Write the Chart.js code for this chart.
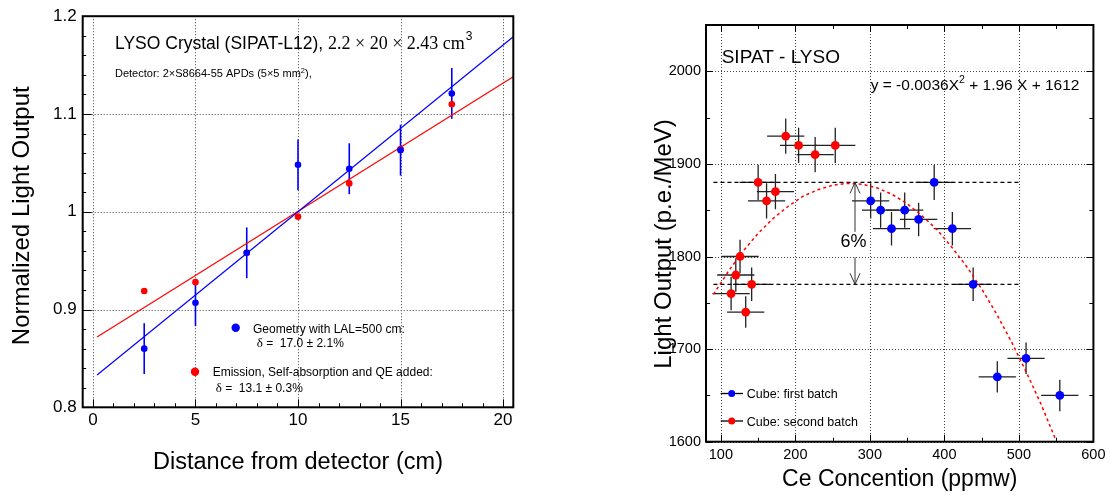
<!DOCTYPE html>
<html>
<head>
<meta charset="utf-8">
<script src="https://cdn.jsdelivr.net/npm/chart.js@4.4.0/dist/chart.umd.min.js"></script>
<style>
html, body { margin: 0; padding: 0; background: #fff; }
#wrap { position: relative; width: 1110px; height: 495px; }
canvas { position: absolute; top: 0; }
#left { left: 0; }
#right { left: 555px; }
</style>
</head>
<body>
<div id="wrap">
  <canvas id="left" width="555" height="495"></canvas>
  <canvas id="right" width="555" height="495"></canvas>
</div>
<script>
// ---- left panel: normalized light output vs distance ----
const distance = [2.5, 5, 7.5, 10, 12.5, 15, 17.5];
const geomLO = [0.860, 0.907, 0.958, 1.048, 1.044, 1.063, 1.121];
const geomErr = [0.026, 0.024, 0.026, 0.026, 0.026, 0.026, 0.026];
const emisLO = [0.919, 0.928, 0.958, 0.995, 1.029, 1.064, 1.110];
const geomFitX = [0.2, 20.5];
const geomFitY = [0.833, 1.179];
const emisFitX = [0.2, 20.5];
const emisFitY = [0.872, 1.138];
const distTicks = [0, 5, 10, 15, 20];
const loTicks = [0.8, 0.9, 1, 1.1, 1.2];
const loTickLabels = ['0.8', '0.9', '1', '1.1', '1.2'];

// ---- right panel: light output vs Ce concentration ----
const ceBatch1 = [301, 314.4, 329, 346.7, 365.4, 386.3, 410.7, 438.6, 471, 509.6, 554.9];
const lyBatch1 = [1860, 1850, 1830, 1850, 1840, 1880, 1830, 1770, 1670, 1690, 1650];
const ceErr1 = [25, 25, 25, 25, 25, 25, 25, 25, 25, 25, 25];
const lyErr1 = [19, 19, 18, 19, 18, 19, 18, 18, 17, 17, 17];
const ceBatch2 = [113.7, 120, 125.7, 133.3, 141.3, 150, 161.3, 173.2, 187, 204.3, 226.5, 253.5];
const lyBatch2 = [1760, 1780, 1800, 1740, 1770, 1880, 1860, 1870, 1930, 1920, 1910, 1920];
const ceErr2 = [25, 25, 25, 25, 25, 25, 25, 25, 25, 25, 25, 27];
const lyErr2 = [18, 18, 18, 17, 18, 19, 19, 19, 19, 19, 19, 19];
// fitted curve y = -0.0036X^2 + 1.96X + 1612
const fitCe = [90, 110, 130, 150, 170, 190, 210, 230, 250, 270, 290, 310, 330, 350, 370, 390, 410, 430, 450, 470, 490, 510, 530, 550];
const fitLy = [1759, 1784, 1806, 1825, 1841, 1854, 1865, 1872, 1877, 1879, 1878, 1874, 1867, 1857, 1844, 1829, 1810, 1789, 1765, 1738, 1708, 1675, 1640, 1601];
const bandCe = [90, 500];
const bandLevels = [1880, 1770];
const ceTicks = [100, 200, 300, 400, 500, 600];
const lyTicks = [1600, 1700, 1800, 1900, 2000];

const SANS = 'Liberation Sans, Arial, sans-serif';
const SERIF = 'Liberation Serif, Times New Roman, serif';
Chart.defaults.font.family = SANS;
Chart.defaults.color = '#000';

const pts = (xs, ys) => xs.map((x, i) => ({ x: x, y: ys[i] }));

function txt(ctx, s, x, y, size, family, align) {
  ctx.font = size + 'px ' + (family || SANS);
  ctx.textAlign = align || 'left';
  ctx.textBaseline = 'alphabetic';
  ctx.fillText(s, x, y);
  return ctx.measureText(s).width;
}

function dot(ctx, x, y, r, color) {
  ctx.beginPath();
  ctx.arc(x, y, r, 0, Math.PI * 2);
  ctx.fillStyle = color;
  ctx.fill();
}

function frame(ctx, a) {
  ctx.save();
  ctx.strokeStyle = '#000';
  ctx.lineWidth = 2;
  ctx.strokeRect(a.left, a.top, a.right - a.left, a.bottom - a.top);
  ctx.restore();
}

// dotted grid at the labelled ticks
function dottedGrid(chart, xs, ys) {
  const { ctx, chartArea: a, scales: { x, y } } = chart;
  ctx.save();
  ctx.strokeStyle = '#444';
  ctx.lineWidth = 1;
  ctx.setLineDash([1, 2]);
  xs.forEach(v => {
    const px = Math.round(x.getPixelForValue(v)) + 0.5;
    ctx.beginPath(); ctx.moveTo(px, a.top); ctx.lineTo(px, a.bottom); ctx.stroke();
  });
  ys.forEach(v => {
    const py = Math.round(y.getPixelForValue(v)) + 0.5;
    ctx.beginPath(); ctx.moveTo(a.left, py); ctx.lineTo(a.right, py); ctx.stroke();
  });
  ctx.restore();
}

const noGrid = { display: false, drawTicks: false };
const noBorder = { display: false };

// ------------------------------------------------------------------
const leftDecor = {
  id: 'leftDecor',
  beforeDatasetsDraw(chart) {
    dottedGrid(chart, distTicks, loTicks);
    const { ctx, scales: { x, y } } = chart;
    ctx.save();
    ctx.strokeStyle = '#0000ff';
    ctx.lineWidth = 1.6;
    distance.forEach((d, i) => {
      const px = x.getPixelForValue(d);
      ctx.beginPath();
      ctx.moveTo(px, y.getPixelForValue(geomLO[i] - geomErr[i]));
      ctx.lineTo(px, y.getPixelForValue(geomLO[i] + geomErr[i]));
      ctx.stroke();
    });
    ctx.restore();
  },
  afterDraw(chart) {
    const { ctx, chartArea: a, scales: { x, y } } = chart;
    ctx.save();
    frame(ctx, a);
    ctx.strokeStyle = '#000';
    ctx.lineWidth = 1;
    for (let i = 0; i <= 20; i++) {
      const py = Math.round(y.getPixelForValue(0.8 + i * 0.02)) + 0.5;
      const len = i % 5 === 0 ? 9 : 3.5;
      ctx.beginPath(); ctx.moveTo(a.left, py); ctx.lineTo(a.left + len, py); ctx.stroke();
      const px = Math.round(x.getPixelForValue(i)) + 0.5;
      const lx = i % 5 === 0 ? 8 : 4;
      ctx.beginPath(); ctx.moveTo(px, a.bottom); ctx.lineTo(px, a.bottom - lx); ctx.stroke();
    }
    ctx.fillStyle = '#000';
    // header
    let w = txt(ctx, 'LYSO Crystal (SIPAT-L12), ', 115, 48.5, 17.5);
    let w2 = txt(ctx, '2.2 \u00d7 20 \u00d7 2.43 cm', 115 + w, 48.5, 18, SERIF);
    txt(ctx, '3', 115 + w + w2 + 1, 40, 12);
    w = txt(ctx, 'Detector: 2\u00d7S8664-55 APDs (5\u00d75 mm', 115, 77.3, 11);
    w2 = txt(ctx, '2', 115 + w, 73, 7.5);
    txt(ctx, '),', 115 + w + w2, 77.3, 11);
    // legend
    dot(ctx, 235.7, 327.7, 4.2, '#0000ff');
    ctx.fillStyle = '#000';
    txt(ctx, 'Geometry with LAL=500 cm:', 253, 332.7, 12);
    w = txt(ctx, '\u03b4', 256.7, 347, 13, SERIF);
    txt(ctx, ' =  17.0 \u00b1 2.1%', 256.7 + w, 347, 12);
    dot(ctx, 195, 371.7, 4.2, '#ff0000');
    ctx.fillStyle = '#000';
    txt(ctx, 'Emission, Self-absorption and QE added:', 212.7, 376, 12);
    w = txt(ctx, '\u03b4', 215.7, 392, 13, SERIF);
    txt(ctx, ' =  13.1 \u00b1 0.3%', 215.7 + w, 392, 12);
    // axis titles
    txt(ctx, 'Distance from detector (cm)', (a.left + a.right) / 2, 469, 23.5, SANS, 'center');
    ctx.translate(29, (a.top + a.bottom) / 2 + 4);
    ctx.rotate(-Math.PI / 2);
    txt(ctx, 'Normalized Light Output', 0, 0, 24, SANS, 'center');
    ctx.restore();
  }
};

new Chart(document.getElementById('left'), {
  type: 'scatter',
  data: {
    datasets: [
      { data: pts(distance, geomLO), backgroundColor: '#0000ff', pointRadius: 3.3, borderWidth: 0, order: 0 },
      { data: pts(distance, emisLO), backgroundColor: '#ff0000', pointRadius: 3.3, borderWidth: 0, order: 1 },
      { data: pts(geomFitX, geomFitY), showLine: true, borderColor: '#0000ff', borderWidth: 1.2, pointRadius: 0, order: 2 },
      { data: pts(emisFitX, emisFitY), showLine: true, borderColor: '#ff0000', borderWidth: 1.2, pointRadius: 0, order: 3 }
    ]
  },
  options: {
    responsive: false,
    animation: false,
    events: [],
    layout: { padding: { left: 0, top: 8.3, right: 41.7, bottom: 0 }, autoPadding: false },
    plugins: { legend: { display: false }, tooltip: { enabled: false } },
    scales: {
      x: {
        type: 'linear', min: -0.5, max: 20.5,
        afterBuildTicks: s => { s.ticks = distTicks.map(v => ({ value: v })); },
        afterFit: s => { s.height = 87.7; },
        grid: noGrid, border: noBorder,
        ticks: { font: { size: 17 }, padding: 3, maxRotation: 0, autoSkip: false, callback: v => String(v) }
      },
      y: {
        type: 'linear', min: 0.8, max: 1.2,
        afterBuildTicks: s => { s.ticks = loTicks.map(v => ({ value: v })); },
        afterFit: s => { s.width = 82.7; },
        grid: noGrid, border: noBorder,
        ticks: { font: { size: 17 }, padding: 6, autoSkip: false, callback: (v, i) => loTickLabels[i] }
      }
    }
  },
  plugins: [leftDecor]
});

// ------------------------------------------------------------------
function errBars(ctx, x, y, xs, ys, ex, ey) {
  xs.forEach((v, i) => {
    const px = x.getPixelForValue(v), py = y.getPixelForValue(ys[i]);
    ctx.beginPath();
    ctx.moveTo(x.getPixelForValue(v - ex[i]), py);
    ctx.lineTo(x.getPixelForValue(v + ex[i]), py);
    ctx.moveTo(px, y.getPixelForValue(ys[i] - ey[i]));
    ctx.lineTo(px, y.getPixelForValue(ys[i] + ey[i]));
    ctx.stroke();
  });
}

const rightDecor = {
  id: 'rightDecor',
  beforeDatasetsDraw(chart) {
    dottedGrid(chart, ceTicks, lyTicks);
    const { ctx, scales: { x, y } } = chart;
    ctx.save();
    ctx.strokeStyle = '#222';
    ctx.lineWidth = 1.3;
    errBars(ctx, x, y, ceBatch2, lyBatch2, ceErr2, lyErr2);
    errBars(ctx, x, y, ceBatch1, lyBatch1, ceErr1, lyErr1);
    ctx.restore();
  },
  afterDraw(chart) {
    const { ctx, chartArea: a, scales: { x, y } } = chart;
    ctx.save();
    frame(ctx, a);
    ctx.strokeStyle = '#000';
    ctx.lineWidth = 1;
    for (let v = 100; v <= 600; v += 50) {
      const px = Math.round(x.getPixelForValue(v)) + 0.5;
      const len = v % 100 === 0 ? 7 : 4;
      ctx.beginPath();
      ctx.moveTo(px, a.bottom); ctx.lineTo(px, a.bottom - len);
      ctx.moveTo(px, a.top); ctx.lineTo(px, a.top + len);
      ctx.stroke();
    }
    for (let v = 1600; v <= 2050; v += 50) {
      const py = Math.round(y.getPixelForValue(v)) + 0.5;
      const len = v % 100 === 0 ? 7 : 4;
      ctx.beginPath();
      ctx.moveTo(a.left, py); ctx.lineTo(a.left + len, py);
      ctx.moveTo(a.right, py); ctx.lineTo(a.right - len, py);
      ctx.stroke();
    }
    // 6% arrow between the two dashed levels
    const ax = x.getPixelForValue(280);
    const y1 = y.getPixelForValue(bandLevels[0]);
    const y2 = y.getPixelForValue(bandLevels[1]);
    const mid = (y1 + y2) / 2;
    ctx.strokeStyle = '#333';
    ctx.beginPath();
    ctx.moveTo(ax, y1); ctx.lineTo(ax, mid - 1.5);
    ctx.moveTo(ax, mid + 24); ctx.lineTo(ax, y2);
    ctx.moveTo(ax - 5, y1 + 11); ctx.lineTo(ax, y1); ctx.lineTo(ax + 5, y1 + 11);
    ctx.moveTo(ax - 5, y2 - 11); ctx.lineTo(ax, y2); ctx.lineTo(ax + 5, y2 - 11);
    ctx.stroke();
    ctx.fillStyle = '#000';
    txt(ctx, '6%', ax - 1.6, mid + 14, 18, SANS, 'center');
    // labels
    txt(ctx, 'SIPAT - LYSO', 166.7, 62.5, 19);
    let w = txt(ctx, 'y = -0.0036X', 315.7, 90, 15.5);
    let w2 = txt(ctx, '2', 315.7 + w, 83, 10.5);
    txt(ctx, ' + 1.96 X + 1612', 315.7 + w + w2, 90, 15.5);
    // legend
    [[393.5, '#0000ff', 'Cube: first batch'], [421, '#ff0000', 'Cube: second batch']].forEach(([ly, c, s]) => {
      ctx.strokeStyle = '#000';
      ctx.lineWidth = 1.3;
      ctx.beginPath(); ctx.moveTo(165.7, ly); ctx.lineTo(188, ly); ctx.stroke();
      dot(ctx, 176.7, ly, 3.5, c);
      ctx.fillStyle = '#000';
      txt(ctx, s, 191.7, ly + 4.5, 12.5);
    });
    // axis titles
    txt(ctx, 'Ce Concention (ppmw)', (a.left + a.right) / 2, 486, 23, SANS, 'center');
    ctx.translate(116, 244);
    ctx.rotate(-Math.PI / 2);
    txt(ctx, 'Light Output (p.e./MeV)', 0, 0, 24, SANS, 'center');
    ctx.restore();
  }
};

new Chart(document.getElementById('right'), {
  type: 'scatter',
  data: {
    datasets: [
      { data: pts(ceBatch1, lyBatch1), backgroundColor: '#0000ff', pointRadius: 4.4, borderWidth: 0, order: 0 },
      { data: pts(ceBatch2, lyBatch2), backgroundColor: '#ff0000', pointRadius: 4.4, borderWidth: 0, order: 1 },
      { data: pts(fitCe, fitLy), showLine: true, borderColor: '#ff0000', borderWidth: 1.5, borderDash: [3, 3], pointRadius: 0, order: 2 },
      { data: pts(bandCe, [bandLevels[0], bandLevels[0]]), showLine: true, borderColor: '#000', borderWidth: 1.2, borderDash: [4, 3], pointRadius: 0, order: 3 },
      { data: pts(bandCe, [bandLevels[1], bandLevels[1]]), showLine: true, borderColor: '#000', borderWidth: 1.2, borderDash: [4, 3], pointRadius: 0, order: 4 }
    ]
  },
  options: {
    responsive: false,
    animation: false,
    events: [],
    layout: { padding: { left: 0, top: 25, right: 13.3, bottom: 0 }, autoPadding: false },
    plugins: { legend: { display: false }, tooltip: { enabled: false } },
    scales: {
      x: {
        type: 'linear', min: 80, max: 600,
        afterBuildTicks: s => { s.ticks = ceTicks.map(v => ({ value: v })); },
        afterFit: s => { s.height = 53.3; },
        grid: noGrid, border: noBorder,
        ticks: { font: { size: 14.5 }, padding: 4.5, maxRotation: 0, autoSkip: false, callback: v => String(v) }
      },
      y: {
        type: 'linear', min: 1600, max: 2050,
        afterBuildTicks: s => { s.ticks = lyTicks.map(v => ({ value: v })); },
        afterFit: s => { s.width = 151; },
        grid: noGrid, border: noBorder,
        ticks: { font: { size: 14.5 }, padding: 5, autoSkip: false, callback: v => String(v) }
      }
    }
  },
  plugins: [rightDecor]
});
</script>
</body>
</html>
